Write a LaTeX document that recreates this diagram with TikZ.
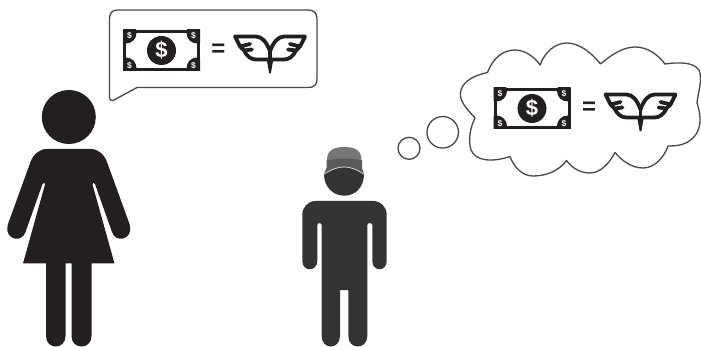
\documentclass[tikz,border=0pt]{standalone}
\usepackage{fontspec}
\setmainfont{Liberation Sans}
\definecolor{inkdark}{HTML}{231F20}
\definecolor{manbody}{HTML}{333333}
\definecolor{captop}{HTML}{767676}
\definecolor{capband}{HTML}{5A5A5A}
\definecolor{outline}{HTML}{474747}
\tikzset{
  smalldollar/.style={text=white, font=\fontsize{8.5}{8.5}\selectfont\bfseries, inner sep=0pt},
  pics/moneywings/.style={code={
    % banknote
    \fill[inkdark] (-38.5,-20.5) rectangle (38.5,20.5);
    \fill[white] (-35.5,-17.5) rectangle (35.5,17.5);
    \begin{scope}
      \clip (-38.5,-20.5) rectangle (38.5,20.5);
      \foreach \cx/\cy in {-35.5/-17.5,35.5/-17.5,-35.5/17.5,35.5/17.5}
        \fill[inkdark] (\cx,\cy) circle[radius=10.5];
    \end{scope}
    \fill[inkdark] (0,0) circle[radius=14.5];
    \node[text=white, font=\fontsize{22}{22}\selectfont\bfseries, inner sep=0pt] (coin) at (0,0) {\$};
    \node[smalldollar] (sA) at (-32,-15) {\$};
    \node[smalldollar] (sB) at (32,-15) {\$};
    \node[smalldollar] (sC) at (-32,15) {\$};
    \node[smalldollar] (sD) at (32,15) {\$};
    % equals sign
    \node[text=inkdark, font=\fontsize{24}{24}\selectfont\bfseries, inner sep=0pt] (equals) at (57,0) {=};
    % wings
    \begin{scope}[xshift=108.5, yshift=-2, line width=3.8pt, line join=round, line cap=round, draw=inkdark]
      \foreach \s in {-1,1}{
        \draw[xscale=\s] (0,-1) .. controls (-3,-10) and (-8,-16) .. (-14,-16) -- (-35,-16)
          -- (-30,-6) -- (-20,-8.5) (-30,-6) -- (-26,-2) -- (-18,-3)
          (-26,-2) .. controls (-23,4) and (-19,7) .. (-14,7) -- (-2,7);
      }
      \draw (0,-1) -- (0,14);
      \fill[inkdark] (-3.5,6) -- (3.5,6) -- (0.8,21) -- (-0.8,21) -- cycle;
    \end{scope}
  }}
}
\begin{document}
\begin{tikzpicture}[x=1pt, y=-1pt,
    bubbleline/.style={draw=outline, line width=1.3pt, line join=round},
    thoughtdot/.style={draw=outline, line width=1.3pt, fill=white}
  ]
\useasboundingbox (0,0) rectangle (701,347);
\clip (0,0) rectangle (701,347);
% speech bubble
\draw[bubbleline] (118,10) -- (308,10) .. controls (314,10) and (317,13) .. (317,19)
  -- (317,79) .. controls (317,85) and (314,87.5) .. (308,87.5) -- (137,87.5)
  -- (114,100) .. controls (111,101.5) and (109.5,100) .. (109.5,97) -- (109.5,19)
  .. controls (109.5,13) and (112,10) .. (118,10) -- cycle;
\pic (moneyA) at (161.5,50.5) {moneywings};
% thought bubble
\draw[bubbleline, fill=white] (487.5,72.5)
  .. controls (493,58) and (503,50) .. (515,50) .. controls (524,50) and (534,56) .. (540,65)
  .. controls (545,52) and (555,43) .. (567,43) .. controls (579,43) and (592,53) .. (600.5,64)
  .. controls (612,54) and (624,47) .. (635,47) .. controls (648,47) and (658,55) .. (665,64)
  .. controls (680,62) and (693,62) .. (699,70) .. controls (703,80) and (698,92) .. (697,103)
  .. controls (702,118) and (701,130) .. (693,138) .. controls (686,145) and (677,146) .. (668,146)
  .. controls (664,158) and (654,168) .. (643,168) .. controls (632,168) and (622,161) .. (615,152.5)
  .. controls (609,164) and (600,173) .. (590,173) .. controls (580,173) and (572,168) .. (566.5,160.5)
  .. controls (559,171) and (546,176) .. (533,176) .. controls (522,176) and (514,167) .. (510,156.5)
  .. controls (494,162) and (476,162) .. (471,150) .. controls (468,140) and (470,128) .. (475,118)
  .. controls (466,108) and (458,100) .. (461,90) .. controls (464,80) and (476,75) .. (487.5,72.5) -- cycle;
\node[thoughtdot, circle, minimum size=31.5pt, inner sep=0pt] (dotbig) at (442.7,132.3) {};
\node[thoughtdot, circle, minimum size=22pt, inner sep=0pt] (dotsmall) at (409,148.3) {};
\pic (moneyB) at (532,108.5) {moneywings};
% woman
\fill[inkdark] (68.8,117) circle[radius=27];
\fill[inkdark] (47,149) -- (90.5,149) .. controls (98,149) and (104,154) .. (107,162)
  -- (129.5,224) .. controls (133,235) and (124,241) .. (117,238) .. controls (114,237) and (113,234) .. (112,232)
  -- (95,184) .. controls (94,182) and (92.5,182) .. (92.5,184.5) -- (114.5,263.5) -- (91.5,263.5)
  -- (91.5,336) .. controls (91.5,350) and (71.5,350) .. (71.5,336) -- (71.5,263.5) -- (65.5,263.5)
  -- (65.5,336) .. controls (65.5,350) and (46,350) .. (46,336) -- (46,263.5) -- (23,263.5)
  -- (45,184.5) .. controls (45,182) and (43.5,182) .. (42.5,184) -- (25.5,232)
  .. controls (24.5,234) and (23.5,237) .. (20.5,238) .. controls (13.5,241) and (4.5,235) .. (8,224)
  -- (30.5,162) .. controls (33.5,154) and (39.5,149) .. (47,149) -- cycle;
% man
\fill[manbody] (316,201) -- (373,201) .. controls (381,201) and (386.7,207) .. (386.7,215)
  -- (386.7,261) .. controls (386.7,272) and (372.3,272) .. (372.3,261) -- (372.3,225)
  .. controls (372.3,222.5) and (367.3,222.5) .. (367.3,225) -- (367.3,336)
  .. controls (367.3,350) and (348.3,350) .. (348.3,336) -- (348.3,290) -- (340,290)
  -- (340,336) .. controls (340,350) and (321.7,350) .. (321.7,336) -- (321.7,225)
  .. controls (321.7,222.5) and (317.3,222.5) .. (317.3,225) -- (317.3,261)
  .. controls (317.3,272) and (302.3,272) .. (302.3,261) -- (302.3,215)
  .. controls (302.3,207) and (308,201) .. (316,201) -- cycle;
\fill[captop] (327,172) -- (327,160) .. controls (327,150) and (334,147) .. (344.3,147)
  .. controls (354.5,147) and (361.5,150) .. (361.5,160) -- (361.5,172) -- cycle;
\fill[capband] (326.5,160.5) .. controls (338,158) and (350,158) .. (362,160.5) -- (362,168)
  -- (364,174) -- (344.3,174) -- (324,174) -- (326.5,168) -- cycle;
\fill[manbody] (324,174) .. controls (332,169) and (338,167) .. (344.3,167)
  .. controls (350,167) and (356,169) .. (364,174) .. controls (364,187) and (355.5,195.7) .. (344.3,195.7)
  .. controls (333,195.7) and (324,187) .. (324,174) -- cycle;
\draw[white!85!black, line width=0.8pt] (323.5,174.5) .. controls (332,169) and (338,167) .. (344.3,167)
  .. controls (350,167) and (356,169) .. (364.5,174.5);
\end{tikzpicture}
\end{document}
